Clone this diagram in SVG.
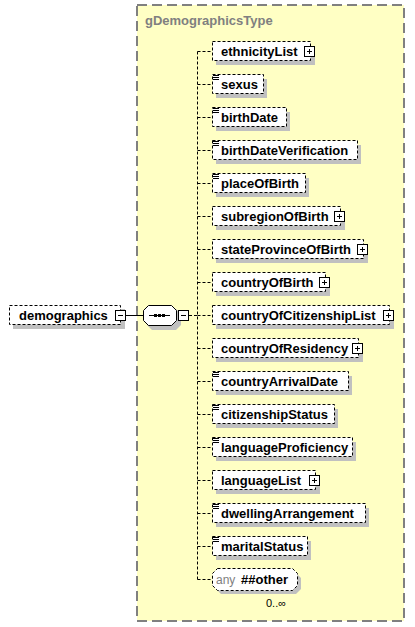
<svg xmlns="http://www.w3.org/2000/svg" width="415" height="627" viewBox="0 0 415 627">
<style>
.bx{fill:#fff;stroke:#000;stroke-width:1;stroke-dasharray:3,2}
.sh{fill:#c0c0c0}
.t{font-family:"Liberation Sans",Arial,sans-serif;font-weight:bold;font-size:13px;fill:#000}
.ic{fill:#fff;stroke:#000;stroke-width:1}
.il{stroke:#000;stroke-width:1;fill:none}
.cn{stroke:#000;stroke-width:1;fill:none;stroke-dasharray:3,2}
.eq{stroke:#000;stroke-width:1}
</style>
<defs>
<g id="plus"><rect x="0.5" y="0.5" width="10" height="10" class="ic"/><path d="M3 5.5H8M5.5 3V8" class="il"/></g>
<g id="minus"><rect x="0.5" y="0.5" width="10" height="10" class="ic"/><path d="M3 5.5H8" class="il"/></g>
<g id="eq"><path d="M213 1H219M213 3H219M213 5H219" class="eq"/></g>
</defs>
<g id="gDemographicsType">
<rect x="137" y="5" width="267" height="616" fill="#ffffc4" stroke="#808080" stroke-width="2" stroke-dasharray="10,5"/>
<text x="145" y="25" class="t" fill="#808080" style="fill:#808080">gDemographicsType</text>
</g>
<g id="connectors">
<path d="M126 315.5H143" class="il"/>
<path d="M189 315.5H197.5M197.5 51.5V579.5" class="cn"/>
<path d="M197.5 51.5H212M197.5 84.5H212M197.5 117.5H212M197.5 150.5H212M197.5 183.5H212M197.5 216.5H212M197.5 249.5H212M197.5 282.5H212M197.5 315.5H212M197.5 348.5H212M197.5 381.5H212M197.5 414.5H212M197.5 447.5H212M197.5 480.5H212M197.5 513.5H212M197.5 546.5H212M197.5 579.5H212" class="cn"/>
</g>
<g id="demographics">
<rect x="13" y="309" width="112" height="20" class="sh"/>
<rect x="9.5" y="305.5" width="111" height="19" class="bx"/>
<text x="19" y="320" class="t">demographics</text>
<use href="#minus" x="115" y="310"/>
</g>
<g id="sequence">
<path d="M152 309H176L181 314V325L176 330H152L147 325V314Z" class="sh"/>
<path d="M148.5 305.5H171.5L176.5 310.5V320.5L171.5 325.5H148.5L143.5 320.5V310.5Z" fill="#fff" stroke="#000"/>
<path d="M149 315.5H170" class="il"/>
<rect x="154" y="314" width="3" height="3"/><rect x="158" y="314" width="3" height="3"/><rect x="162" y="314" width="3" height="3"/>
<use href="#minus" x="178" y="310"/>
</g>
<g id="ethnicityList">
<rect x="216" y="46" width="99" height="19" class="sh"/><rect x="212.5" y="41.5" width="98" height="19" class="bx"/>
<text x="221" y="56" class="t">ethnicityList</text><use href="#plus" x="304" y="46"/>
</g>
<g id="sexus">
<rect x="216" y="79" width="51" height="19" class="sh"/><rect x="212.5" y="74.5" width="51" height="19" class="bx"/>
<use href="#eq" y="74.5"/><text x="221" y="89" class="t">sexus</text>
</g>
<g id="birthDate">
<rect x="216" y="112" width="74" height="19" class="sh"/><rect x="212.5" y="107.5" width="74" height="19" class="bx"/>
<use href="#eq" y="107.5"/><text x="221" y="122" class="t">birthDate</text>
</g>
<g id="birthDateVerification">
<rect x="216" y="145" width="145" height="19" class="sh"/><rect x="212.5" y="140.5" width="145" height="19" class="bx"/>
<use href="#eq" y="140.5"/><text x="221" y="155" class="t">birthDateVerification</text>
</g>
<g id="placeOfBirth">
<rect x="216" y="178" width="93" height="19" class="sh"/><rect x="212.5" y="173.5" width="93" height="19" class="bx"/>
<use href="#eq" y="173.5"/><text x="221" y="188" class="t">placeOfBirth</text>
</g>
<g id="subregionOfBirth">
<rect x="216" y="211" width="129" height="19" class="sh"/><rect x="212.5" y="206.5" width="128" height="19" class="bx"/>
<text x="221" y="221" class="t">subregionOfBirth</text><use href="#plus" x="334" y="211"/>
</g>
<g id="stateProvinceOfBirth">
<rect x="216" y="244" width="152" height="19" class="sh"/><rect x="212.5" y="239.5" width="151" height="19" class="bx"/>
<text x="221" y="254" class="t">stateProvinceOfBirth</text><use href="#plus" x="357" y="244"/>
</g>
<g id="countryOfBirth">
<rect x="216" y="277" width="114" height="19" class="sh"/><rect x="212.5" y="272.5" width="113" height="19" class="bx"/>
<text x="221" y="287" class="t">countryOfBirth</text><use href="#plus" x="319" y="277"/>
</g>
<g id="countryOfCitizenshipList">
<rect x="216" y="310" width="178" height="19" class="sh"/><rect x="212.5" y="305.5" width="177" height="19" class="bx"/>
<text x="221" y="320" class="t">countryOfCitizenshipList</text><use href="#plus" x="383" y="310"/>
</g>
<g id="countryOfResidency">
<rect x="216" y="343" width="147" height="19" class="sh"/><rect x="212.5" y="338.5" width="146" height="19" class="bx"/>
<text x="221" y="353" class="t">countryOfResidency</text><use href="#plus" x="352" y="343"/>
</g>
<g id="countryArrivalDate">
<rect x="216" y="376" width="136" height="19" class="sh"/><rect x="212.5" y="371.5" width="136" height="19" class="bx"/>
<use href="#eq" y="371.5"/><text x="221" y="386" class="t">countryArrivalDate</text>
</g>
<g id="citizenshipStatus">
<rect x="216" y="409" width="122" height="19" class="sh"/><rect x="212.5" y="404.5" width="122" height="19" class="bx"/>
<use href="#eq" y="404.5"/><text x="221" y="419" class="t">citizenshipStatus</text>
</g>
<g id="languageProficiency">
<rect x="216" y="442" width="140" height="19" class="sh"/><rect x="212.5" y="437.5" width="140" height="19" class="bx"/>
<use href="#eq" y="437.5"/><text x="221" y="452" class="t">languageProficiency</text>
</g>
<g id="languageList">
<rect x="216" y="475" width="104" height="19" class="sh"/><rect x="212.5" y="470.5" width="103" height="19" class="bx"/>
<text x="221" y="485" class="t">languageList</text><use href="#plus" x="309" y="475"/>
</g>
<g id="dwellingArrangement">
<rect x="216" y="508" width="153" height="19" class="sh"/><rect x="212.5" y="503.5" width="153" height="19" class="bx"/>
<use href="#eq" y="503.5"/><text x="221" y="518" class="t">dwellingArrangement</text>
</g>
<g id="maritalStatus">
<rect x="216" y="541" width="95" height="19" class="sh"/><rect x="212.5" y="536.5" width="95" height="19" class="bx"/>
<use href="#eq" y="536.5"/><text x="221" y="551" class="t">maritalStatus</text>
</g>
<g id="any">
<path d="M221 573H296L301 578V589L296 594H221L216 589V578Z" class="sh"/>
<path d="M217.5 568.5H292.5L297.5 573.5V585.5L292.5 590.5H217.5L212.5 585.5V573.5Z" class="bx"/>
<text x="216" y="584" font-family="Liberation Sans,Arial,sans-serif" font-size="12" fill="#808080">any</text>
<text x="241" y="584" class="t">##other</text>
<text x="266" y="607" font-family="Liberation Sans,Arial,sans-serif" font-size="11" fill="#000">0..∞</text>
</g>
</svg>
